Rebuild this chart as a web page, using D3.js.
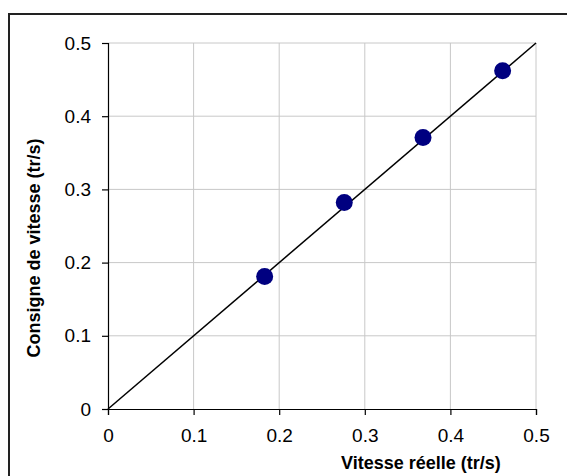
<!DOCTYPE html>
<html><head><meta charset="utf-8">
<script src="https://cdn.jsdelivr.net/npm/d3@7"></script>
<style>body{margin:0;background:#fff}svg{display:block}</style>
</head><body>
<script>
const xValues = [0.183, 0.276, 0.368, 0.461];
const yValues = [0.181, 0.282, 0.371, 0.462];
const lineX = [0, 0.5];
const lineY = [0, 0.5];
const xTicks = [0, 0.1, 0.2, 0.3, 0.4, 0.5];
const yTicks = [0, 0.1, 0.2, 0.3, 0.4, 0.5];
const xTitle = "Vitesse réelle (tr/s)";
const yTitle = "Consigne de vitesse (tr/s)";

const W = 567, H = 476;
const svg = d3.select("body").append("svg").attr("width", W).attr("height", H);
const font = "'Liberation Sans', Arial, sans-serif";

svg.append("rect").attr("x", 9).attr("y", 14).attr("width", 600).attr("height", 500)
  .attr("fill", "#fff").attr("stroke", "#222").attr("stroke-width", 2);

const x = d3.scaleLinear().domain([0, 0.5]).range([108, 536]);
const y = d3.scaleLinear().domain([0, 0.5]).range([409, 43]);

// gridlines
svg.append("g").selectAll("line").data(xTicks.slice(1)).join("line")
  .attr("x1", d => x(d)).attr("x2", d => x(d)).attr("y1", y(0)).attr("y2", y(0.5))
  .attr("stroke", "#c8c8c8").attr("stroke-width", 1);
svg.append("g").selectAll("line").data(yTicks.slice(1)).join("line")
  .attr("x1", x(0)).attr("x2", x(0.5)).attr("y1", d => y(d)).attr("y2", d => y(d))
  .attr("stroke", "#c8c8c8").attr("stroke-width", 1);

const fmt = d => d === 0 ? "0" : String(d);
const xAxis = svg.append("g").attr("transform", `translate(0,${y(0)})`)
  .call(d3.axisBottom(x).tickValues(xTicks).tickFormat(fmt).tickSizeOuter(0).tickSize(6).tickPadding(14));
const yAxis = svg.append("g").attr("transform", `translate(${x(0)},0)`)
  .call(d3.axisLeft(y).tickValues(yTicks).tickFormat(fmt).tickSizeOuter(0).tickSize(6).tickPadding(11));
[xAxis, yAxis].forEach(g => {
  g.select(".domain").attr("stroke", "#000").attr("stroke-width", 1.2);
  g.selectAll(".tick line").attr("stroke", "#000").attr("stroke-width", 1.2);
  g.selectAll(".tick text").attr("fill", "#000").style("font-family", font).style("font-size", "19px");
});

// line y = x
svg.append("path").datum(lineX.map((d, i) => [d, lineY[i]]))
  .attr("d", d3.line().x(d => x(d[0])).y(d => y(d[1])))
  .attr("stroke", "#000").attr("stroke-width", 1.5).attr("fill", "none");

// points
svg.append("g").selectAll("circle").data(xValues.map((d, i) => [d, yValues[i]])).join("circle")
  .attr("cx", d => x(d[0])).attr("cy", d => y(d[1])).attr("r", 8.5)
  .attr("fill", "#000080");

svg.append("text").attr("x", 421).attr("y", 469).attr("text-anchor", "middle")
  .style("font-family", font).style("font-weight", "bold").style("font-size", "18px").text(xTitle);
svg.append("text").attr("transform", `translate(40,248) rotate(-90)`).attr("text-anchor", "middle")
  .style("font-family", font).style("font-weight", "bold").style("font-size", "18px").text(yTitle);
</script>
</body></html>
